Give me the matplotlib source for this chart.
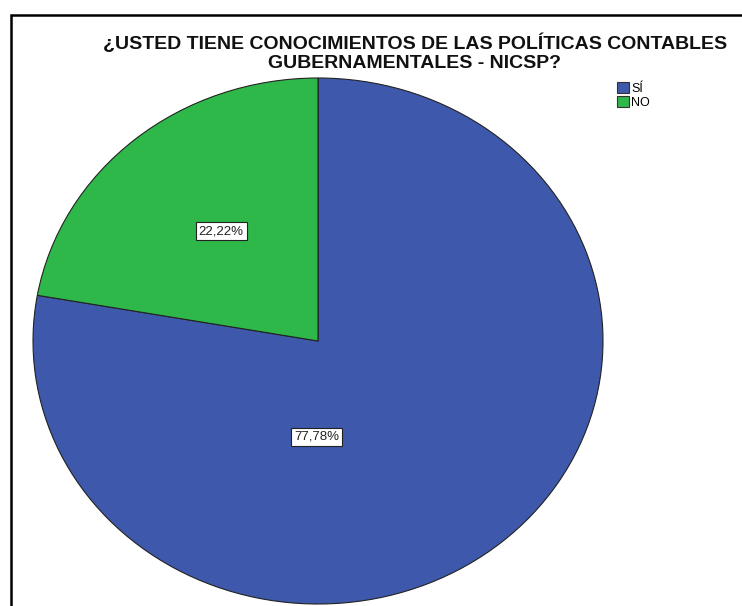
import matplotlib
matplotlib.use("Agg")
import matplotlib.pyplot as plt
from matplotlib.patches import Rectangle, Patch

categories = ["SÍ", "NO"]
values = [77.78, 22.22]
pct_labels = ["77,78%", "22,22%"]
colors = ["#3E58AB", "#2EB84A"]
title_lines = ["¿USTED TIENE CONOCIMIENTOS DE LAS POLÍTICAS CONTABLES",
               "GUBERNAMENTALES - NICSP?"]

plt.rcParams['font.family'] = ['Liberation Sans', 'DejaVu Sans']

W, H = 742, 606
fig = plt.figure(figsize=(W / 100, H / 100), dpi=100)

# outer frame (cut off at right and bottom)
fig.add_artist(Rectangle((11 / W, -0.1), 1.2, 1.1 - 15 / H, transform=fig.transFigure,
                         fill=False, edgecolor="black", linewidth=1.8))

# pie axes (elliptical pie)
ax = fig.add_axes([33 / W, 2 / H, 570 / W, 526 / H])
wedges, _ = ax.pie(values, colors=colors, startangle=90, counterclock=False,
                   radius=1, wedgeprops=dict(edgecolor="#222222", linewidth=0.8))
ax.set_aspect('auto')
ax.set_xlim(-1, 1)
ax.set_ylim(-1, 1)
ax.axis('off')

label_pos = [(-0.004, -0.365), (-0.34, 0.418)]
for lab, (x, y) in zip(pct_labels, label_pos):
    ax.text(x, y, lab, ha='center', va='center', fontsize=9.5, color='#222222',
            bbox=dict(boxstyle='square,pad=0.22', facecolor='white', edgecolor='#222222', linewidth=0.8))

for line, base in zip(title_lines, [49, 68]):
    fig.text(415 / W, 1 - base / H, line, ha='center', va='baseline', fontsize=14,
             fontweight='bold', color='#111111')

handles = [Patch(facecolor=c, edgecolor='#333333', linewidth=0.8) for c in colors]
fig.legend(handles, categories, loc='upper left', bbox_to_anchor=(617 / W, 1 - 82 / H),
           frameon=False, fontsize=9, handlelength=0.95, handleheight=0.95,
           handletextpad=0.2, labelspacing=0.1, borderaxespad=0, borderpad=0)

fig.savefig("out.png", dpi=100)
